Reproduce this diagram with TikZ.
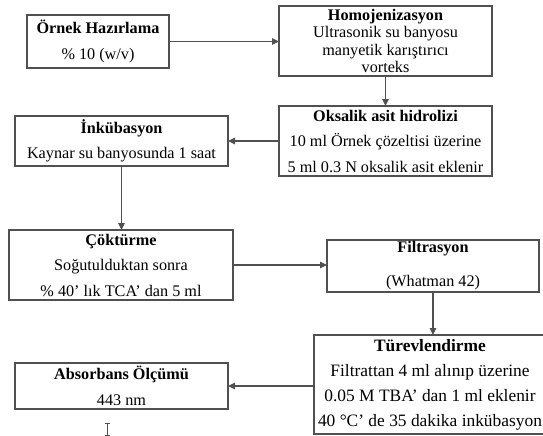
\documentclass[tikz,border=0pt]{standalone}
\usepackage{fontspec}
\setmainfont{Liberation Serif}
\usetikzlibrary{arrows.meta}
\definecolor{edge}{HTML}{505050}
\begin{document}
\begin{tikzpicture}[x=1pt,y=-1pt,
  box/.style={draw=edge, line width=1.2pt, inner sep=0pt, outer sep=0pt,
              align=center, font=\fontsize{16.2}{25.5}\selectfont},
  flow/.style={draw=edge, line width=1.1pt, -{Triangle[length=7pt,width=6.5pt]}}]
\useasboundingbox (0,0) rectangle (543,436);

% process steps
\node[box, minimum width=142pt, minimum height=53pt] (b1) at (98,41.5)
  {\textbf{Örnek Hazırlama}\\\% 10 (w/v)};
\node[box, minimum width=213pt, minimum height=70pt,
      font=\fontsize{16.2}{17.5}\selectfont] (b2) at (385.5,41)
  {\textbf{Homojenizasyon}\\Ultrasonik su banyosu\\manyetik karıştırıcı\\vorteks};
\node[box, minimum width=213pt, minimum height=70pt] (b3) at (385.5,141)
  {\textbf{Oksalik asit hidrolizi}\\10 ml Örnek çözeltisi üzerine\\5 ml 0.3 N oksalik asit eklenir};
\node[box, minimum width=213pt, minimum height=50pt] (b4) at (121.5,141)
  {\textbf{İnkübasyon}\\Kaynar su banyosunda 1 saat};
\node[box, minimum width=224pt, minimum height=70pt] (b5) at (121,265)
  {\textbf{Çöktürme}\\Soğutulduktan sonra\\\% 40’ lık TCA’ dan 5 ml};
\node[box, minimum width=212pt, minimum height=52pt,
      font=\fontsize{16.2}{34}\selectfont] (b6) at (433,266)
  {\textbf{Filtrasyon}\\(Whatman 42)};
\node[box, minimum width=232pt, minimum height=99pt,
      font=\fontsize{17.4}{25}\selectfont] (b7) at (430,384.5)
  {\textbf{Türevlendirme}\\Filtrattan 4 ml alınıp üzerine\\0.05 M TBA’ dan 1 ml eklenir\\40 °C’ de 35 dakika inkübasyon};
\node[box, minimum width=213pt, minimum height=46pt] (b8) at (121.5,386)
  {\textbf{Absorbans Ölçümü}\\443 nm};

% flow between steps
\draw[flow] (b1.east) -- (b1.east -| b2.west);
\draw[flow] (b2.south) -- (b3.north);
\draw[flow] (b3.west) -- (b3.west -| b4.east);
\draw[flow] (b4.south) -- (b4.south |- b5.north);
\draw[flow] (b5.east) -- (b5.east -| b6.west);
\draw[flow] (b6.south) -- (b6.south |- b7.north);
\draw[flow] (b7.west |- b8.east) -- (b8.east);

% text cursor
\draw[edge, line width=0.8pt]
  (104.5,423.5) -- (109.5,423.5) (107,423.5) -- (107,435) (104.5,435) -- (109.5,435);
\end{tikzpicture}
\end{document}
